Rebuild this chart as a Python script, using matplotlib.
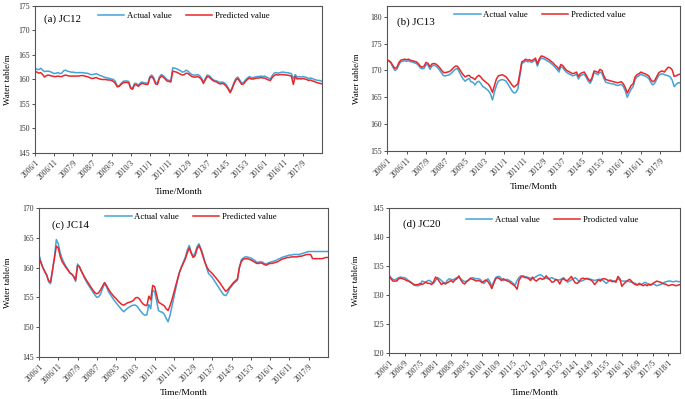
import matplotlib
matplotlib.use("Agg")
import matplotlib.pyplot as plt
import numpy as np

plt.rcParams["font.family"] = ["Liberation Serif", "DejaVu Serif"]

BLUE = "#45a3d6"
RED = "#e8262b"

# month index 0 = 2006/1
TICKS_10 = ["2006/1", "2006/11", "2007/9", "2008/7", "2009/5", "2010/3", "2011/1", "2011/11",
            "2012/9", "2013/7", "2014/5", "2015/3", "2016/1", "2016/11", "2017/9"]
TICKS_8 = ["2006/1", "2006/9", "2007/5", "2008/1", "2008/9", "2009/5", "2010/1", "2010/9",
           "2011/5", "2012/1", "2012/9", "2013/5", "2014/1", "2014/9", "2015/5", "2016/1",
           "2016/9", "2017/5", "2018/1"]

jc12_actual = [
    162.3, 162.1, 162.0, 162.3, 161.9, 161.6, 161.7, 161.7, 161.6, 161.4,
    161.2, 161.3, 161.4, 161.2, 161.3, 161.8, 161.9, 161.7, 161.6, 161.5,
    161.5, 161.4, 161.4, 161.4, 161.4, 161.4, 161.3, 161.3, 161.2, 161.0,
    161.0, 161.1, 161.2, 161.0, 160.8, 160.7, 160.5, 160.4, 160.3, 160.2,
    160.1, 160.0, 159.6, 158.7, 158.7, 159.2, 159.6, 159.7, 159.7, 159.6,
    158.4, 158.2, 159.2, 159.2, 158.8, 159.3, 159.5, 159.3, 159.3, 159.2,
    160.6, 160.9, 160.4, 159.4, 159.3, 160.5, 161.0, 160.8, 160.4, 160.0,
    159.8, 159.8, 162.4, 162.3, 162.2, 162.0, 161.8, 161.5, 161.6, 161.9,
    161.7, 161.3, 161.0, 160.9, 160.9, 161.0, 160.8, 160.3, 159.5, 160.2,
    160.9, 160.8, 160.4, 160.0, 159.8, 159.7, 159.5, 159.4, 159.5, 159.3,
    158.9, 158.3, 157.5, 158.3, 159.4, 160.2, 160.5, 159.9, 159.3, 159.4,
    159.9, 160.3, 160.6, 160.4, 160.4, 160.5, 160.6, 160.6, 160.7, 160.6,
    160.7, 160.5, 160.3, 160.1, 160.8, 161.3, 161.4, 161.3, 161.4, 161.5,
    161.5, 161.4, 161.4, 161.3, 161.2, 160.2, 161.0, 160.5, 160.6, 160.5,
    160.6, 160.5, 160.4, 160.2, 160.3, 160.2, 160.0, 159.9, 159.8, 159.8, 159.6]
jc12_pred = [
    161.7, 161.5, 161.3, 161.4, 161.0, 160.5, 160.8, 160.9, 160.8, 160.7,
    160.6, 160.6, 160.7, 160.6, 160.6, 160.8, 160.9, 160.8, 160.7, 160.7,
    160.7, 160.7, 160.7, 160.7, 160.8, 160.8, 160.7, 160.6, 160.5, 160.3,
    160.2, 160.3, 160.4, 160.2, 160.1, 160.0, 160.0, 160.0, 159.9, 159.9,
    159.8, 159.6, 159.2, 158.5, 158.6, 159.0, 159.3, 159.4, 159.4, 159.3,
    158.2, 158.0, 158.9, 158.9, 158.6, 159.0, 159.2, 159.1, 159.0, 159.0,
    160.3, 160.6, 160.1, 159.1, 159.0, 160.2, 160.7, 160.5, 160.1, 159.7,
    159.6, 159.5, 161.7, 161.6, 161.5, 161.3, 161.1, 160.9, 161.0, 161.3,
    161.2, 160.9, 160.6, 160.5, 160.5, 160.6, 160.4, 160.0, 159.2, 159.9,
    160.6, 160.5, 160.1, 159.8, 159.6, 159.5, 159.2, 159.1, 159.2, 159.0,
    158.6, 158.0, 157.3, 158.1, 159.1, 159.9, 160.2, 159.6, 159.0, 159.1,
    159.6, 160.0, 160.3, 160.1, 160.1, 160.2, 160.3, 160.3, 160.4, 160.3,
    160.3, 160.1, 159.9, 159.8, 160.4, 160.8, 161.0, 160.9, 161.0, 161.0,
    161.0, 160.9, 160.9, 160.8, 160.7, 159.0, 160.6, 160.1, 160.2, 160.1,
    160.2, 160.1, 160.0, 159.8, 159.9, 159.7, 159.6, 159.4, 159.3, 159.2, 159.1]

jc13_actual = [
    172.0, 171.8, 171.4, 170.6, 170.0, 170.2, 171.0, 171.6, 171.7, 171.8,
    171.7, 171.8, 171.6, 171.6, 171.4, 171.3, 171.0, 170.5, 170.3, 170.4,
    171.1, 171.0, 170.2, 170.8, 171.0, 170.8, 170.5, 170.0, 169.5, 169.0,
    169.0, 169.1, 169.2, 169.5, 169.9, 170.2, 170.4, 169.7, 169.0, 168.4,
    168.0, 168.3, 168.5, 167.9, 167.8, 167.3, 167.8, 168.0, 167.6, 167.0,
    166.8, 166.5, 166.2, 165.6, 164.5, 166.0, 167.2, 168.0, 168.2, 168.3,
    168.2, 168.0, 167.4, 166.8, 166.2, 165.8, 165.9, 166.6, 169.0, 171.3,
    171.5, 171.8, 171.6, 171.7, 171.5, 171.7, 172.0, 170.8, 171.8, 172.3,
    172.2, 172.0, 171.8, 171.6, 171.3, 171.0, 170.6, 170.2, 169.7, 170.7,
    170.5, 170.0, 169.6, 169.4, 169.2, 169.0, 169.1, 169.3, 168.4, 169.0,
    169.2, 169.3, 168.7, 168.0, 167.6, 168.3, 169.6, 169.4, 169.2, 169.7,
    169.5, 168.5, 167.8, 167.7, 167.6, 167.5, 167.5, 167.3, 167.2, 167.3,
    167.4, 167.0, 166.2, 165.0, 165.8, 166.5, 167.0, 168.3, 168.8, 169.0,
    169.3, 169.1, 169.0, 168.8, 168.5, 167.8, 167.3, 167.6, 168.3, 169.0,
    169.3, 169.4, 169.2, 169.1, 169.0, 168.8, 168.2, 167.0, 167.4, 167.7, 167.7]
jc13_pred = [
    171.9, 171.8, 171.5, 170.9, 170.4, 170.5, 171.4, 171.9, 172.0, 172.1,
    172.0, 172.1, 171.9, 171.8, 171.7, 171.6, 171.3, 170.8, 170.6, 170.8,
    171.5, 171.3, 170.7, 171.2, 171.3, 171.2, 170.9, 170.5, 170.0, 169.6,
    169.6, 169.7, 169.8, 170.1, 170.5, 170.8, 170.8, 170.3, 169.7, 169.2,
    168.8, 169.0, 169.1, 168.7, 168.6, 168.3, 168.8, 169.1, 168.8, 168.3,
    168.0, 167.7, 167.4, 166.8, 165.9, 167.2, 168.4, 169.0, 169.1, 169.2,
    169.0, 168.8, 168.3, 167.8, 167.3, 166.9, 167.2, 167.5, 169.4, 171.6,
    171.8, 172.1, 171.9, 172.0, 171.8, 172.0, 172.3, 171.2, 172.2, 172.7,
    172.6, 172.4, 172.2, 172.0, 171.7, 171.4, 171.0, 170.7, 170.2, 171.1,
    170.9, 170.4, 170.0, 169.8, 169.6, 169.4, 169.5, 169.7, 168.9, 169.4,
    169.6, 169.7, 169.1, 168.4, 168.0, 168.7, 169.9, 169.8, 169.6, 170.2,
    170.0, 169.0, 168.3, 168.2, 168.1, 168.0, 167.9, 167.8, 167.7, 167.8,
    167.9, 167.5, 166.8, 165.8, 166.5, 167.2, 167.5, 168.8, 169.2, 169.4,
    169.7, 169.5, 169.4, 169.2, 169.0, 168.3, 167.9, 168.1, 168.8, 169.5,
    169.8, 169.9, 169.7, 170.2, 170.6, 170.5, 170.1, 168.9, 169.0, 169.2, 169.3]

jc14_actual = [
    162.2, 161.0, 160.0, 159.4, 158.8, 157.6, 157.3, 159.5, 161.8, 164.7,
    164.0, 162.5, 161.5, 160.8, 160.2, 159.7, 159.2, 158.9, 158.5, 157.7,
    160.6, 160.2, 159.4, 158.7, 158.0, 157.4, 156.9, 156.4, 155.9, 155.4,
    155.0, 155.1, 155.6, 156.5, 157.3, 156.8, 156.0, 155.5, 155.0, 154.5,
    154.1, 153.7, 153.3, 152.9, 152.6, 152.9, 153.2, 153.4, 153.6, 153.7,
    153.7, 153.5, 153.0, 152.6, 152.2, 152.0, 152.1, 153.8, 153.1, 156.2,
    156.0, 154.5, 152.8, 152.6, 152.5, 152.2, 151.5, 150.9, 152.0, 153.5,
    155.0, 156.5, 158.0, 159.3, 160.2, 161.0, 161.8, 163.0, 163.7, 162.6,
    161.9, 162.4, 163.5, 164.0, 163.2, 162.3, 161.0, 160.0, 159.0, 158.7,
    158.3, 157.8, 157.3, 156.8, 156.3, 155.8, 155.4, 155.3, 155.8, 156.5,
    156.9, 157.3, 157.6, 157.9, 160.0, 161.3, 161.6, 161.8, 161.8, 161.7,
    161.6, 161.4, 161.2, 160.9, 160.9, 161.0, 160.9, 160.7, 160.6, 160.8,
    160.9, 161.0, 161.1, 161.2, 161.4, 161.5, 161.7, 161.8, 161.9, 162.0,
    162.1, 162.1, 162.2, 162.2, 162.2, 162.2, 162.3, 162.4, 162.5, 162.6,
    162.7, 162.7, 162.7, 162.7, 162.7, 162.7, 162.7, 162.7, 162.7, 162.7, 162.7]
jc14_pred = [
    161.6, 160.8, 160.0, 159.3, 158.7, 157.8, 157.6, 159.5, 161.5, 163.6,
    163.3, 161.9, 161.0, 160.5, 160.0, 159.6, 159.1, 158.9, 158.5, 157.9,
    160.3, 160.1, 159.4, 158.8, 158.2, 157.7, 157.2, 156.7, 156.2, 155.8,
    155.6, 155.8, 156.3, 156.9, 157.5, 157.0, 156.4, 155.9, 155.5, 155.1,
    154.8, 154.4, 154.1, 153.8, 153.7, 153.9, 154.1, 154.2, 154.3, 154.5,
    154.9, 155.0, 154.8, 154.3, 153.9, 153.7, 153.6, 155.2, 154.6, 157.0,
    156.8, 155.5, 154.2, 154.0, 153.8, 153.6, 153.1, 152.8, 153.6, 154.6,
    155.8, 157.0, 158.2, 159.3, 160.1, 160.8, 161.5, 162.5, 163.3, 162.4,
    161.7, 162.0, 163.1, 163.7, 163.0, 162.0, 161.0, 160.2, 159.6, 159.3,
    159.0, 158.6, 158.2, 157.8, 157.4, 156.9, 156.4, 156.0, 156.3, 156.7,
    157.1, 157.5, 157.8, 158.1, 160.0, 161.0, 161.4, 161.5, 161.5, 161.4,
    161.3, 161.1, 160.9, 160.7, 160.7, 160.8, 160.7, 160.5, 160.4, 160.6,
    160.7, 160.7, 160.8, 160.9, 161.0, 161.2, 161.4, 161.5, 161.6, 161.7,
    161.7, 161.8, 161.8, 161.8, 161.8, 161.9, 161.9, 162.0, 162.1, 162.2,
    162.2, 162.2, 161.5, 161.5, 161.5, 161.5, 161.5, 161.5, 161.6, 161.7, 161.7]

jc20_actual = [
    133.4, 133.0, 132.7, 132.6, 132.8, 133.0, 133.1, 133.0, 133.0, 132.8,
    132.5, 132.3, 132.0, 131.8, 131.6, 131.6, 131.7, 132.4, 132.3, 132.2,
    132.5, 132.5, 132.2, 132.0, 132.5, 133.0, 132.8, 132.5, 132.2, 132.0,
    132.5, 132.8, 132.7, 132.6, 132.8, 133.0, 133.0, 132.8, 132.5, 132.3,
    132.4, 132.5, 132.8, 133.0, 132.9, 132.8, 132.8, 132.7, 132.3, 132.0,
    132.4, 132.8, 132.3, 131.5, 132.3, 133.0, 133.2, 133.2, 132.8, 132.5,
    132.6, 132.7, 132.5, 132.3, 132.0, 131.7, 132.5, 133.0, 133.3, 133.3,
    133.2, 133.1, 133.0, 132.9, 132.8, 133.0, 133.2, 133.4, 133.5, 133.3,
    133.0, 132.9, 132.8, 132.9, 133.0, 132.8, 132.6, 132.6, 132.6, 132.8,
    133.0, 132.6, 132.2, 132.4, 132.6, 132.8, 133.0, 132.7, 132.3, 132.4,
    132.5, 132.7, 132.9, 132.8, 132.7, 132.6, 132.5, 132.6, 132.7, 132.7,
    132.6, 132.3, 132.0, 132.3, 132.6, 132.5, 132.3, 132.5, 132.8, 132.6,
    132.4, 132.4, 132.4, 132.4, 132.3, 132.2, 132.1, 132.0, 131.8, 131.8,
    131.8, 132.0, 132.2, 132.0, 131.7, 131.8, 131.9, 131.8, 131.6, 131.7,
    131.8, 132.0, 132.2, 132.3, 132.4, 132.4, 132.3, 132.3, 132.4, 132.3, 132.3]
jc20_pred = [
    133.4, 132.8, 132.4, 132.4, 132.4, 132.8, 132.9, 132.8, 132.7, 132.5,
    132.4, 132.2, 132.0, 131.7, 131.8, 131.8, 132.0, 131.8, 132.0, 132.2,
    132.0, 132.0, 131.8, 132.3, 133.1, 132.8, 132.3, 131.8, 132.1, 131.9,
    132.1, 132.3, 132.5, 132.2, 132.6, 132.8, 133.3, 132.6, 132.1, 131.9,
    132.3, 132.6, 132.9, 132.7, 132.6, 132.4, 132.5, 132.4, 132.1, 132.4,
    132.6, 132.3, 131.8, 131.1, 132.0, 132.8, 133.0, 132.8, 132.5, 132.8,
    132.6, 132.4, 132.3, 132.0, 131.8, 131.5, 131.0, 132.5, 133.1, 133.2,
    133.0, 133.0, 132.8, 132.5, 133.1, 132.6, 132.4, 132.7, 132.9, 132.7,
    132.8, 133.3, 132.9, 132.6, 132.2, 132.3, 132.7, 132.5, 131.9, 132.6,
    132.8, 132.5, 132.5, 132.8, 133.2, 132.6, 132.1, 132.0, 132.3, 132.8,
    132.9, 132.8, 132.8, 132.7, 132.6, 132.3, 131.8, 132.2, 132.6, 132.4,
    132.8, 132.8, 132.7, 132.5, 132.5, 132.3, 132.4, 132.2, 133.2, 132.8,
    131.5, 131.9, 132.2, 132.5, 132.7, 132.4, 132.0, 131.8, 131.7, 132.0,
    131.8, 131.6, 131.8, 131.6, 131.9, 131.7, 132.0, 132.2, 132.4, 132.3,
    132.2, 132.0, 131.9, 131.8, 131.6, 131.7, 131.8, 131.7, 131.6, 131.7, 131.8]

# (rect in px: left, top, right, bottom), ylim, tick labels/step, text anchors
PANELS = [
    ("(a) JC12", jc12_actual, jc12_pred, (35, 6, 322, 153), (145, 175), TICKS_10, 10,
     (0.22, 0.935), (0.03, 0.91), -0.08, -0.24, "Predicted value"),
    ("(b) JC13", jc13_actual, jc13_pred, (387, 6, 680, 151), (155, 182), TICKS_10, 10,
     (0.23, 0.94), (0.035, 0.89), -0.09, -0.22, "Predicted value"),
    ("(c) JC14", jc14_actual, jc14_pred, (39, 208, 328, 357), (145, 170), TICKS_10, 10,
     (0.23, 0.94), (0.045, 0.885), -0.095, -0.215, "Predicted value"),
    ("(d) JC20", jc20_actual, jc20_pred, (389, 208, 680, 353), (120, 145), TICKS_8, 8,
     (0.265, 0.915), (0.048, 0.89), -0.10, -0.25, "Prodicted value"),
]

W, H = 685, 399
fig = plt.figure(figsize=(W / 100, H / 100), dpi=100)

for name, actual, pred, (l, t, r, b), ylim, tlabels, step, leg_xy, name_xy, ylx, xly, pname in PANELS:
    ax = fig.add_axes([l / W, 1 - b / H, (r - l) / W, (b - t) / H])
    months = np.arange(len(actual))
    ax.plot(months, actual, color=BLUE, lw=1.1, label="Actual value")
    ax.plot(months, pred, color=RED, lw=1.1, label=pname)
    ax.set_xlim(0, len(actual) - 1)
    ax.set_ylim(*ylim)
    ax.set_yticks(np.arange(ylim[0], ylim[1] + 0.1, 5))
    ax.set_xticks(np.arange(len(tlabels)) * step)
    ax.set_xticklabels(tlabels, rotation=45, ha="right", rotation_mode="anchor")
    ax.tick_params(labelsize=5.6, length=2.5, width=0.6, pad=1.5, colors="#333333")
    for s in ax.spines.values():
        s.set_linewidth(0.8)
        s.set_color("#555555")
    ax.set_ylabel("Water table/m", fontsize=6.5)
    ax.yaxis.set_label_coords(ylx, 0.5)
    ax.set_xlabel("Time/Month", fontsize=6.8)
    ax.xaxis.set_label_coords(0.5, xly)
    ax.text(name_xy[0], name_xy[1], name, transform=ax.transAxes, fontsize=7.8,
            ha="left", va="center")
    ax.legend(loc="center left", bbox_to_anchor=leg_xy, ncol=2, frameon=False,
              fontsize=6.3, handlelength=3.0, handletextpad=0.3, columnspacing=1.6,
              borderpad=0, borderaxespad=0)

fig.savefig("out.png", dpi=100)
